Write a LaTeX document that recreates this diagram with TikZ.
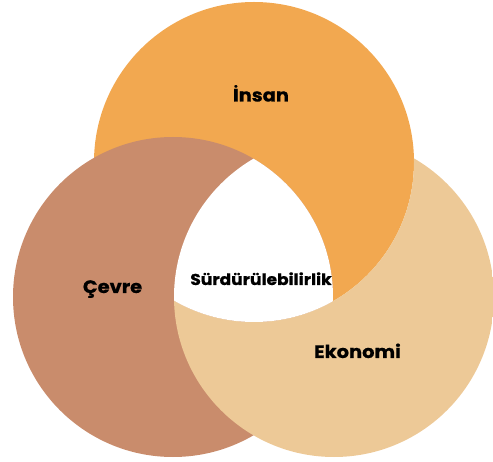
\documentclass[tikz,border=0pt]{standalone}
\usepackage{graphicx}
\usepackage{fontspec}
\setmainfont{Poppins}
\newfontfamily\heavy{Poppins Bold}[FakeBold=0.6]
\definecolor{cOrange}{RGB}{242,168,80}
\definecolor{cBrown}{RGB}{201,140,108}
\definecolor{cTan}{RGB}{237,201,151}
\newcommand{\wide}[1]{\scalebox{1.08}[1]{#1}}
\begin{document}
\begin{tikzpicture}[x=1pt,y=-1pt,
  lbl/.style={text=black, inner sep=0pt, anchor=base},
  big/.style={lbl, font=\heavy\fontsize{18}{20}\selectfont},
  small/.style={lbl, font=\heavy\fontsize{15.8}{18}\selectfont}]
\useasboundingbox (0,0) rectangle (493,462);
\def\R{160}
\coordinate (O) at (254,162);
\coordinate (B) at (173,297);
\coordinate (T) at (334,297);
% orange (Insan) and brown (Cevre) on top of it
\fill[cOrange] (O) circle[radius=\R];
\fill[cBrown] (B) circle[radius=\R];
% tan (Ekonomi): over brown, under orange
\begin{scope}
  \clip (T) circle[radius=\R];
  \fill[cTan, even odd rule] (O) circle[radius=\R] (-20,-20) rectangle (520,490);
\end{scope}
% white centre
\begin{scope}
  \clip (O) circle[radius=\R];
  \clip (B) circle[radius=\R];
  \fill[white] (T) circle[radius=\R];
\end{scope}
\node[big] (insan) at (261,101.5) {\wide{İnsan}};
\node[big] (cevre) at (112.5,293) {\wide{Çevre}};
\node[small] (surd) at (261,285) {\wide{Sürdürülebilirlik}};
\node[big] (eko) at (357.5,358) {\wide{Ekonomi}};
\end{tikzpicture}
\end{document}
